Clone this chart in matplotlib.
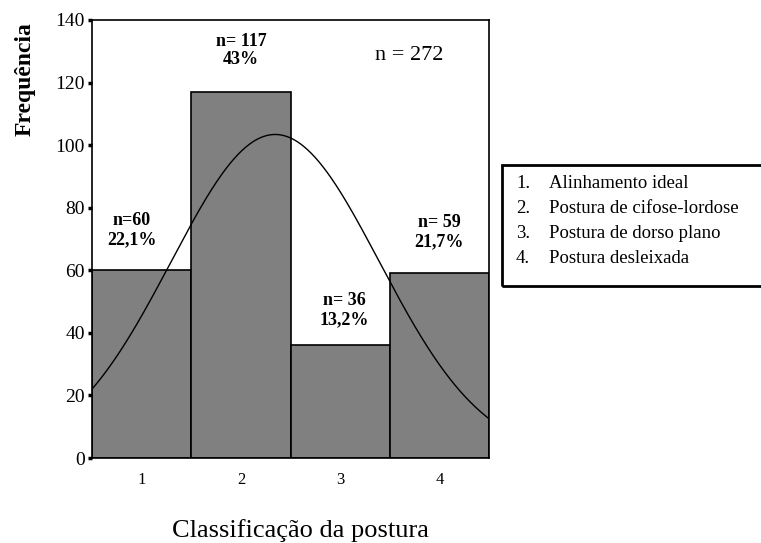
import numpy as np
import matplotlib.pyplot as plt
from matplotlib.patches import Rectangle

# dados do histograma
categorias = [1, 2, 3, 4]
frequencias = [60, 117, 36, 59]
rotulos = ["n=60\n22,1%", "n= 117\n43%", "n= 36\n13,2%", "n= 59\n21,7%"]
legenda = ["Alinhamento ideal", "Postura de cifose-lordose",
           "Postura de dorso plano", "Postura desleixada"]
y_ticks = [0, 20, 40, 60, 80, 100, 120, 140]

plt.rcParams['font.family'] = ['Liberation Serif', 'DejaVu Serif']

fig = plt.figure(figsize=(7.61, 5.43), dpi=100)
ax = fig.add_axes([0.1209, 0.1565, 0.5217, 0.8067])

ax.bar(categorias, frequencias, width=1.0, color='#808080',
       edgecolor='black', linewidth=1.2)

# curva normal ajustada aos dados
x_arr = np.array(categorias, dtype=float)
f_arr = np.array(frequencias, dtype=float)
total = f_arr.sum()
media = (x_arr * f_arr).sum() / total
dp = np.sqrt(((x_arr - media) ** 2 * f_arr).sum() / total)
xs = np.linspace(0.5, 4.5, 300)
ys = total / (dp * np.sqrt(2 * np.pi)) * np.exp(-0.5 * ((xs - media) / dp) ** 2)
ax.plot(xs, ys, color='black', linewidth=1.0)

# rótulos das barras
pos_rotulos = [(0.9, 67), (2, 124.5), (3.04, 41.5), (4, 66.5)]
for (px, py), txt in zip(pos_rotulos, rotulos):
    ax.text(px, py, txt, ha='center', va='bottom', fontsize=13,
            fontweight='bold', linespacing=1.15)

ax.text(3.7, 128.5, "n = 272", ha='center', va='center', fontsize=16)

ax.set_xlim(0.5, 4.5)
ax.set_ylim(0, 140)
ax.set_yticks(y_ticks)
ax.set_xticks(categorias)
ax.tick_params(axis='y', direction='out', length=3, width=2.5, labelsize=14, pad=2)
ax.tick_params(axis='x', length=0, labelsize=12, pad=10)
for s in ax.spines.values():
    s.set_linewidth(1.2)

ax.set_ylabel("Frequência", fontsize=17, fontweight='bold')
ax.yaxis.set_label_coords(-0.141, 0.865)
fig.text(300 / 761, 6 / 543, "Classificação da postura", fontsize=19,
         ha='center', va='baseline')

# caixa de legenda
fig.patches.append(Rectangle((502 / 761, 1 - 286 / 543), 262 / 761, 121 / 543,
                             transform=fig.transFigure, fill=False,
                             edgecolor='black', linewidth=2))
for i, txt in enumerate(legenda):
    yy = 1 - (184 + i * 24.7) / 543
    fig.text(516 / 761, yy, f"{i + 1}.", fontsize=13.5, va='center')
    fig.text(549 / 761, yy, txt, fontsize=13.5, va='center')

plt.savefig('out.png', dpi=100)
